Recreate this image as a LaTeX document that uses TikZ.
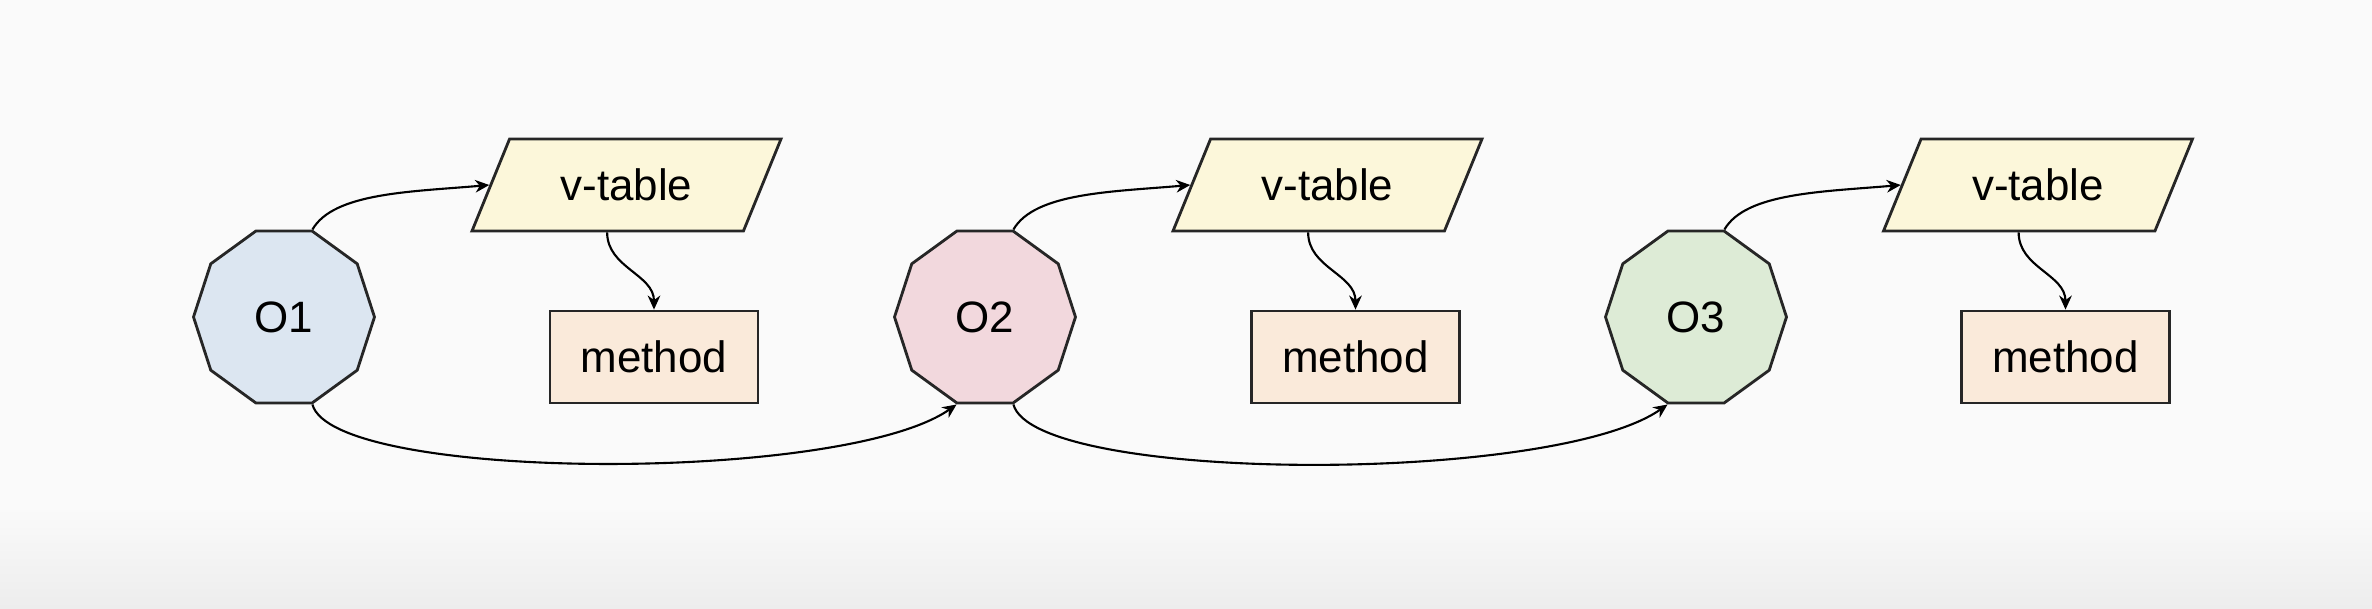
\documentclass[tikz,border=0pt]{standalone}
\usepackage{fontspec}
\setmainfont{Liberation Sans}
\usetikzlibrary{shapes.geometric, arrows.meta, positioning}
\definecolor{objblue}{HTML}{DCE6F1}
\definecolor{objpink}{HTML}{F2D8DD}
\definecolor{objgreen}{HTML}{DDEBD6}
\definecolor{vtyellow}{HTML}{FCF7DA}
\definecolor{methpeach}{HTML}{FAEADA}
\definecolor{bgwhite}{HTML}{FAFAFA}
\definecolor{bggray}{HTML}{EDEDED}
\begin{document}
\begin{tikzpicture}[
  font=\fontsize{12.5}{15}\selectfont,
  obj/.style={
    regular polygon,
    regular polygon sides=10,
    minimum size=1.81cm,
    inner sep=0pt,
    draw=black!85,
    line width=0.8pt,
    fill=#1
  },
  vtab/.style={
    trapezium,
    trapezium left angle=56,
    trapezium right angle=124,
    trapezium stretches body,
    minimum width=3.09cm,
    minimum height=0.92cm,
    draw=black!85,
    line width=0.8pt,
    fill=vtyellow
  },
  meth/.style={
    rectangle,
    minimum width=2.08cm,
    minimum height=0.92cm,
    draw=black!85,
    line width=0.8pt,
    fill=methpeach
  },
  link/.style={-{Stealth[length=4pt,width=3.6pt]}, line width=0.6pt}
]
  \useasboundingbox (0,0) rectangle (23.72,6.08);
  \fill[bgwhite] (0,0) rectangle (23.72,6.08);
  \shade[top color=bgwhite, bottom color=bggray] (0,0) rectangle (23.72,1.0);

  % objects
  \node[obj=objblue] (o1) at (2.84,2.91) {O1};
  \node[obj=objpink] (o2) at (9.85,2.91) {O2};
  \node[obj=objgreen] (o3) at (16.96,2.91) {O3};

  % tables and methods
  \node[vtab] (vt1) at (6.265,4.23) {v-table};
  \node[vtab] (vt2) at (13.275,4.23) {v-table};
  \node[vtab] (vt3) at (20.38,4.23) {v-table};

  \node[meth] (m1) at (6.54,2.51) {method};
  \node[meth] (m2) at (13.555,2.51) {method};
  \node[meth] (m3) at (20.655,2.51) {method};

  \draw[link] (o1.corner 1) to[out=60, in=185, out looseness=0.6, in looseness=1.1] (vt1.west);
  \draw[link] (o2.corner 1) to[out=60, in=185, out looseness=0.6, in looseness=1.1] (vt2.west);
  \draw[link] (o3.corner 1) to[out=60, in=185, out looseness=0.6, in looseness=1.1] (vt3.west);

  \draw[link] (vt1.bottom side) to[out=-90, in=90] (m1.north);
  \draw[link] (vt2.bottom side) to[out=-90, in=90] (m2.north);
  \draw[link] (vt3.bottom side) to[out=-90, in=90] (m3.north);

  \draw[link] (o1.corner 7) to[out=-75, in=-145, out looseness=0.32, in looseness=0.55] (o2.corner 6);
  \draw[link] (o2.corner 7) to[out=-75, in=-145, out looseness=0.32, in looseness=0.55] (o3.corner 6);
\end{tikzpicture}
\end{document}
